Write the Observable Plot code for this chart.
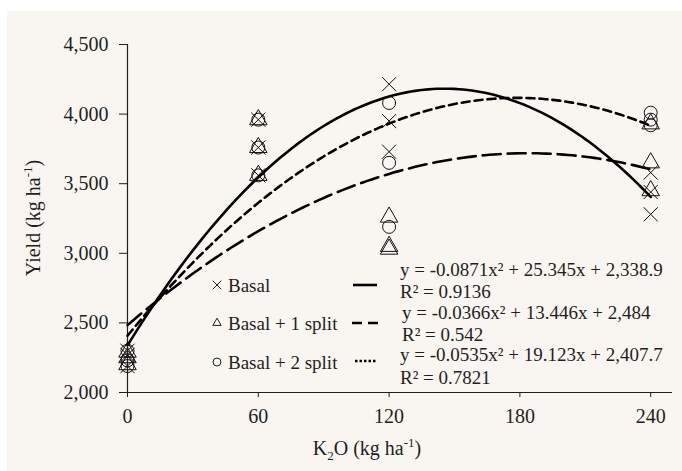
<!DOCTYPE html>
<html><head><meta charset="utf-8">
<script src="https://cdn.jsdelivr.net/npm/d3@7"></script>
<script src="https://cdn.jsdelivr.net/npm/@observablehq/plot@0.6"></script>
<style>
html,body{margin:0;padding:0;background:#fff;}
#chart{position:absolute;left:7px;top:11px;width:675px;height:460px;background:#f9f6f1;overflow:hidden;}
</style></head><body><div id="chart"></div>
<script>
// ---- data ----
const k2oLevels = [0, 60, 120, 240];
const seriesNames = ["Basal", "Basal + 1 split", "Basal + 2 split"];
const basalYield  = [[2300, 2270, 2190], [3960, 3760, 3560], [4215, 3950, 3730], [3580, 3440, 3280]];
const split1Yield = [[2290, 2250, 2200], [3960, 3760, 3560], [3260, 3050, 3030], [3650, 3450, 3930]];
const split2Yield = [[2300, 2230, 2190], [3960, 3760, 3560], [4080, 3650, 3190], [4010, 3960, 3920]];
const coefA = [-0.0871, -0.0366, -0.0535];
const coefB = [25.345, 13.446, 19.123];
const coefC = [2338.9, 2484, 2407.7];
const equationLabels = ["y = -0.0871x² + 25.345x + 2,338.9", "y = -0.0366x² + 13.446x + 2,484", "y = -0.0535x² + 19.123x + 2,407.7"];
const r2Labels = ["R² = 0.9136", "R² = 0.542", "R² = 0.7821"];
const xTicks = [0, 60, 120, 180, 240];
const yTicks = [2000, 2500, 3000, 3500, 4000, 4500];

// ---- tables built from the arrays ----
const yieldSets = [basalYield, split1Yield, split2Yield];
const points = [];
yieldSets.forEach((set, s) => set.forEach((reps, i) => reps.forEach(v => points.push({series: seriesNames[s], x: k2oLevels[i], y: v}))));
const trend = seriesNames.map((name, s) => d3.range(0, 240.001, 2).map(x => ({series: name, x, y: coefA[s] * x * x + coefB[s] * x + coefC[s]})));

const ink = "#1f1f1f";
const serif = "'Liberation Serif', 'Times New Roman', serif";
const dashes = [null, "18,7", "8,5"];
const symbolNames = ["times", "triangle", "circle"];
const d3Symbols = [d3.symbolTimes, d3.symbolTriangle2, d3.symbolCircle];

const plot = Plot.plot({
  width: 675, height: 460,
  marginLeft: 120, marginRight: 10, marginTop: 33, marginBottom: 79,
  style: {fontFamily: serif, fontSize: "20px", background: "transparent", color: ink},
  x: {domain: [0, 250], ticks: xTicks, tickSize: 5, tickPadding: 11, label: null},
  y: {domain: [2000, 4500], ticks: yTicks, tickSize: 8, tickPadding: 11, tickFormat: d3.format(","), label: null},
  symbol: {domain: seriesNames, range: symbolNames},
  marks: [
    Plot.ruleX([0], {stroke: ink, strokeWidth: 1.2}),
    Plot.ruleY([2000], {stroke: ink, strokeWidth: 1.2}),
    ...trend.map((rows, s) => Plot.line(rows, {x: "x", y: "y", stroke: "#000", strokeWidth: 2.6, strokeDasharray: dashes[s]})),
    Plot.dot(points, {x: "x", y: "y", symbol: "series", r: 6.5, stroke: "#111", strokeWidth: 1, fill: "none"})
  ]
});
document.getElementById("chart").appendChild(plot);

// ---- legend and axis titles (page coordinates, shifted into the svg) ----
const svg = d3.select(plot);
const g = svg.append("g").attr("transform", "translate(-7,-11)")
  .attr("font-family", serif).attr("fill", ink).attr("text-anchor", "start");

const rowY = [285, 323, 362];
seriesNames.forEach((name, s) => {
  g.append("path").attr("d", d3.symbol(d3Symbols[s], 50)()).attr("transform", `translate(217,${rowY[s]})`)
    .attr("fill", "none").attr("stroke", ink).attr("stroke-width", 1);
  g.append("text").attr("x", 228).attr("y", rowY[s] + 6.5).attr("font-size", 19).text(name);
});
// legend line samples
g.append("line").attr("x1", 353).attr("x2", 377).attr("y1", rowY[0]).attr("y2", rowY[0]).attr("stroke", "#000").attr("stroke-width", 2.6);
g.append("line").attr("x1", 352).attr("x2", 380).attr("y1", rowY[1]).attr("y2", rowY[1]).attr("stroke", "#000").attr("stroke-width", 2.6).attr("stroke-dasharray", "10,6");
g.append("line").attr("x1", 355).attr("x2", 376).attr("y1", rowY[2] - 1).attr("y2", rowY[2] - 1).attr("stroke", "#000").attr("stroke-width", 2.4).attr("stroke-dasharray", "2.5,2");

const eqBase = [276, 319, 361];
const r2Base = [298, 341, 384];
const eqX = [400, 402, 400];
seriesNames.forEach((name, s) => {
  g.append("text").attr("x", eqX[s]).attr("y", eqBase[s]).attr("font-size", 19).text(equationLabels[s]);
  g.append("text").attr("x", eqX[s]).attr("y", r2Base[s]).attr("font-size", 19).text(r2Labels[s]);
});

// y axis title
const yt = g.append("text").attr("transform", "translate(40,218) rotate(-90)").attr("text-anchor", "middle").attr("font-size", 20);
yt.append("tspan").text("Yield (kg ha");
yt.append("tspan").attr("dy", -8).attr("font-size", 13).text("-1");
yt.append("tspan").attr("dy", 8).text(")");

// x axis title
const xt = g.append("text").attr("x", 367).attr("y", 455).attr("text-anchor", "middle").attr("font-size", 20);
xt.append("tspan").text("K");
xt.append("tspan").attr("dy", 5).attr("font-size", 13).text("2");
xt.append("tspan").attr("dy", -5).text("O (kg ha");
xt.append("tspan").attr("dy", -8).attr("font-size", 13).text("-1");
xt.append("tspan").attr("dy", 8).text(")");
</script>
</body></html>
